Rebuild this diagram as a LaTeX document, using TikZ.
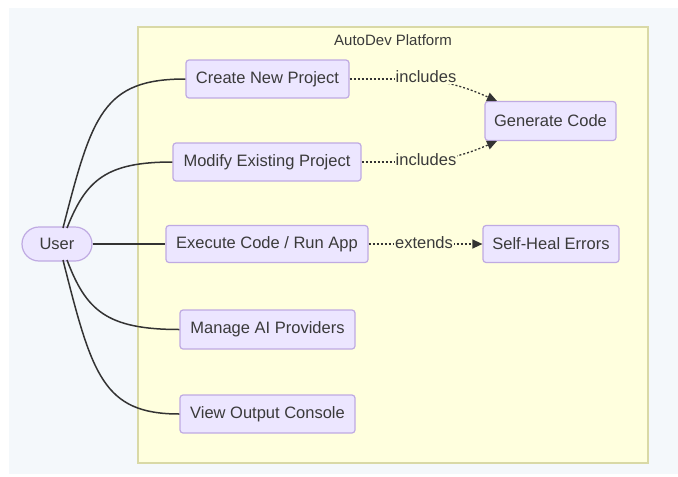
\documentclass[tikz,border=0pt]{standalone}
\usepackage{fontspec}
\setmainfont{Liberation Sans}
\usetikzlibrary{arrows.meta}
\definecolor{pagebg}{HTML}{F4F8FB}
\definecolor{clfill}{HTML}{FFFFDE}
\definecolor{cldraw}{HTML}{D9D9A6}
\definecolor{ucfill}{HTML}{ECE6FF}
\definecolor{ucdraw}{HTML}{BFAAE2}
\definecolor{inktext}{HTML}{3A3A3A}
\definecolor{ink}{HTML}{333333}
\tikzset{
  uc/.style={draw=ucdraw, fill=ucfill, line width=1.2pt, rounded corners=3pt,
    text=inktext, font=\fontsize{16.5}{18}\selectfont, inner sep=0pt, minimum height=38pt},
  actor/.style={uc, rounded corners=17pt, minimum width=70pt, minimum height=34pt},
  assoc/.style={draw=ink, line width=1.5pt},
  dep/.style={draw=ink, line width=1.3pt, dash pattern=on 2pt off 2pt},
  deplabel/.style={fill=clfill, text=inktext, font=\fontsize{16.5}{18}\selectfont, inner sep=1pt},
  tip/.style={-{Triangle[length=10pt,width=9pt]}}
}
\begin{document}
\begin{tikzpicture}[x=1pt,y=-1pt]
\useasboundingbox (0,0) rectangle (678,477);
\fill[white] (0,0) rectangle (678,477);
\fill[pagebg] (9,8) rectangle (678,474);
% cluster
\draw[draw=cldraw, fill=clfill, line width=1.2pt] (138,27) rectangle (648,463);
\node[text=inktext, font=\fontsize{15}{17}\selectfont] (title) at (393,40) {AutoDev Platform};
% nodes
\node[actor] (user) at (57,244) {User};
\node[uc, minimum width=163pt] (create) at (267.5,79) {Create New Project};
\node[uc, minimum width=188pt] (modify) at (267,162) {Modify Existing Project};
\node[uc, minimum width=202pt, minimum height=37pt] (exec) at (267,244) {Execute Code / Run App};
\node[uc, minimum width=175pt, minimum height=39pt] (manage) at (267.5,329.5) {Manage AI Providers};
\node[uc, minimum width=175pt] (view) at (267.5,414) {View Output Console};
\node[uc, minimum width=131pt, minimum height=39pt] (gen) at (550.5,121) {Generate Code};
\node[uc, minimum width=136pt, minimum height=37pt] (heal) at (551,244) {Self-Heal Errors};
% associations
\coordinate (u1) at (63,228);
\coordinate (u2) at (67,228);
\coordinate (u4) at (67,260);
\coordinate (u5) at (63,260);
\draw[assoc] (u1) .. controls (92,115) and (103,79) .. (create.west);
\draw[assoc] (u2) .. controls (86,180) and (106,162) .. (modify.west);
\draw[assoc] (user.east) -- (exec.west);
\draw[assoc] (u4) .. controls (86,310) and (106,329.5) .. (manage.west);
\draw[assoc] (u5) .. controls (92,375) and (103,414) .. (view.west);
% dependencies
\coordinate (g1) at (497,101);
\coordinate (g2) at (497,141);
\coordinate (c1) at (412,79);
\coordinate (c2) at (412,162);
\draw[dep] (create.east) -- (c1);
\draw[dep, tip] (c1) .. controls (448,80) and (472,90) .. (g1);
\draw[dep] (modify.east) -- (c2);
\draw[dep, tip] (c2) .. controls (448,161) and (472,152) .. (g2);
\draw[dep, tip] (exec.east) -- (heal.west);
\node[deplabel] (l1) at (426,77) {includes};
\node[deplabel] (l2) at (426,160) {includes};
\node[deplabel] (l3) at (424,243) {extends};
\end{tikzpicture}
\end{document}
